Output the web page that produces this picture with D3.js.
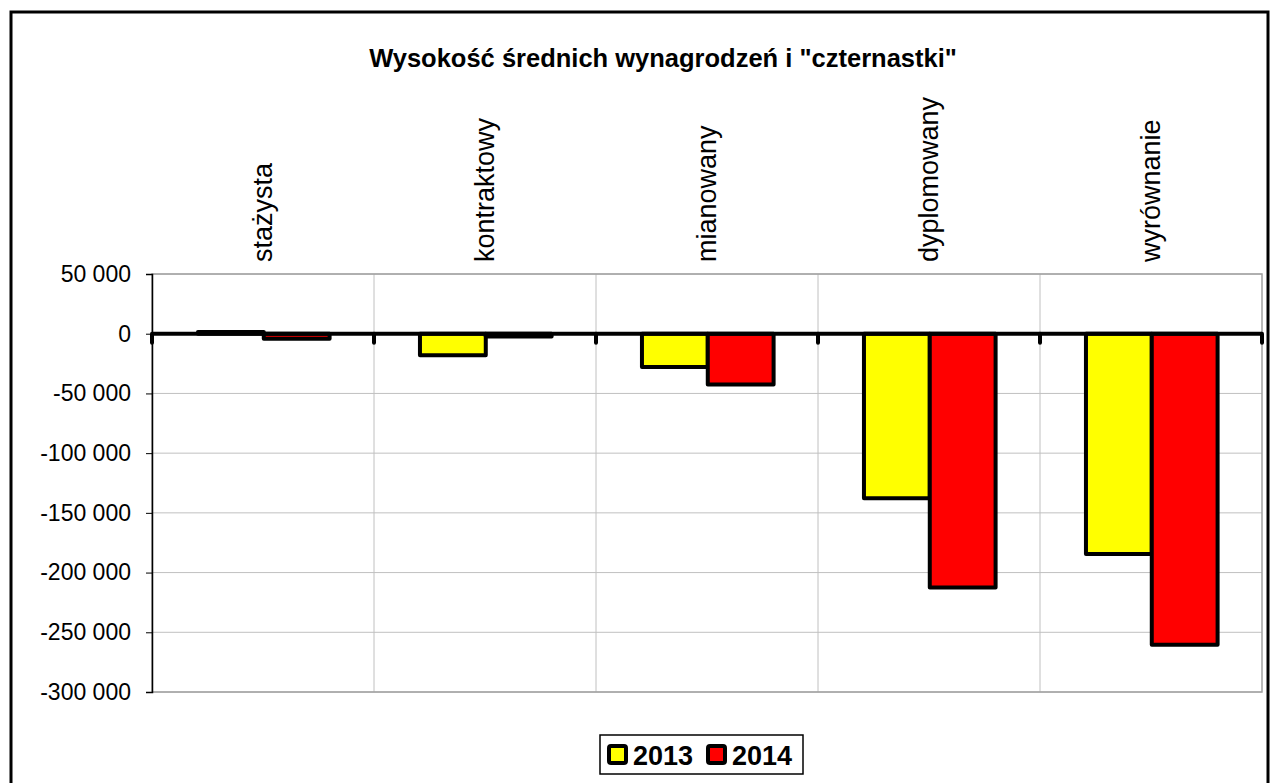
<!DOCTYPE html>
<html><head><meta charset="utf-8">
<script src="https://cdn.jsdelivr.net/npm/d3@7"></script>
<style>
html,body{margin:0;padding:0;background:#fff;}
svg{display:block;font-family:"Liberation Sans",Arial,sans-serif;}
</style></head>
<body>
<svg id="chart" width="1271" height="783"></svg>
<script>
const title = 'Wysokość średnich wynagrodzeń i "czternastki"';
const categories = ["stażysta","kontraktowy","mianowany","dyplomowany","wyrównanie"];
const seriesNames = ["2013","2014"];
const values2013 = [1400, -18100, -27800, -137800, -184400];
const values2014 = [-4200, -2300, -42600, -212400, -260400];
const seriesColors = ["#ffff00","#ff0000"];
const yTicks = [50000, 0, -50000, -100000, -150000, -200000, -250000, -300000];

(function(){
const svg = d3.select("#chart");
const W = 1271, H = 783;
svg.append("rect").attr("width",W).attr("height",H).attr("fill","#fff");
svg.append("rect").attr("x",11).attr("y",12).attr("width",1257).attr("height",790)
  .attr("fill","none").attr("stroke","#000").attr("stroke-width",3);

const pL=152, pR=1262, pT=274, pB=692;
const x = d3.scaleBand().domain(categories).range([pL,pR]).padding(0);
const bw = x.bandwidth();
const x1 = d3.scaleBand().domain(seriesNames).range([bw*0.207, bw*0.80]).padding(0);
const y = d3.scaleLinear().domain([-300000,50000]).range([pB,pT]);

svg.append("g").selectAll("line").data(yTicks).join("line")
  .attr("x1",pL).attr("x2",pR).attr("y1",d=>y(d)).attr("y2",d=>y(d))
  .attr("stroke","#c0c0c0").attr("stroke-width",1);
svg.append("g").selectAll("line").data(categories.slice(1)).join("line")
  .attr("x1",d=>x(d)).attr("x2",d=>x(d)).attr("y1",pT).attr("y2",pB)
  .attr("stroke","#c0c0c0").attr("stroke-width",1);
svg.append("rect").attr("x",pL).attr("y",pT).attr("width",pR-pL).attr("height",pB-pT)
  .attr("fill","none").attr("stroke","#a0a0a0").attr("stroke-width",1.5);

const yAxis = d3.axisLeft(y).tickValues(yTicks).tickSize(6).tickPadding(15)
  .tickFormat(d=>d3.format(",")(d).replace(/,/g," ").replace("−","-"));
const ga = svg.append("g").attr("transform",`translate(${pL},0)`).call(yAxis);
ga.select(".domain").attr("stroke","#000").attr("stroke-width",1.5);
ga.selectAll(".tick line").attr("stroke","#000");
ga.selectAll("text").attr("font-size",23).attr("fill","#000")
  .attr("font-family","Liberation Sans, Arial, sans-serif");

const data = [];
categories.forEach((c,i)=>{
  data.push({c, s:"2013", v:values2013[i], col:seriesColors[0]});
  data.push({c, s:"2014", v:values2014[i], col:seriesColors[1]});
});
svg.append("g").selectAll("rect").data(data).join("rect")
  .attr("x",d=>x(d.c)+x1(d.s)).attr("width",x1.bandwidth())
  .attr("y",d=>y(Math.max(0,d.v))).attr("height",d=>Math.abs(y(d.v)-y(0)))
  .attr("fill",d=>d.col).attr("stroke","#000").attr("stroke-width",4)
  .attr("stroke-linejoin","round");

const zx = svg.append("g");
const tickXs = categories.map(c=>x(c)).concat([pR]);
zx.selectAll("line.t").data(tickXs).join("line")
  .attr("x1",d=>d).attr("x2",d=>d)
  .attr("y1",y(0)).attr("y2",y(0)+9).attr("stroke","#000").attr("stroke-width",4)
  .attr("stroke-linecap","round");
zx.append("line").attr("x1",pL).attr("x2",pR).attr("y1",y(0)).attr("y2",y(0))
  .attr("stroke","#000").attr("stroke-width",4);

svg.append("g").selectAll("text").data(categories).join("text")
  .attr("transform",d=>`translate(${x(d)+bw/2+9},262) rotate(-90)`)
  .attr("text-anchor","start").attr("font-size",27).attr("fill","#000")
  .text(d=>d);

svg.append("text").attr("x",663).attr("y",67).attr("text-anchor","middle")
  .attr("font-size",25.5).attr("font-weight","bold").attr("fill","#000").text(title);

const lg = svg.append("g");
lg.append("rect").attr("x",600).attr("y",735).attr("width",203).attr("height",39)
  .attr("fill","#fff").attr("stroke","#000").attr("stroke-width",1.5);
const lx = [609, 708];
seriesNames.forEach((s,i)=>{
  lg.append("rect").attr("x",lx[i]).attr("y",746).attr("width",17).attr("height",17)
    .attr("fill",seriesColors[i]).attr("stroke","#000").attr("stroke-width",4).attr("rx",2);
  lg.append("text").attr("x",lx[i]+24).attr("y",765).attr("font-size",27).attr("font-weight","bold")
    .attr("fill","#000").text(s);
});
})();
</script>
</body></html>
